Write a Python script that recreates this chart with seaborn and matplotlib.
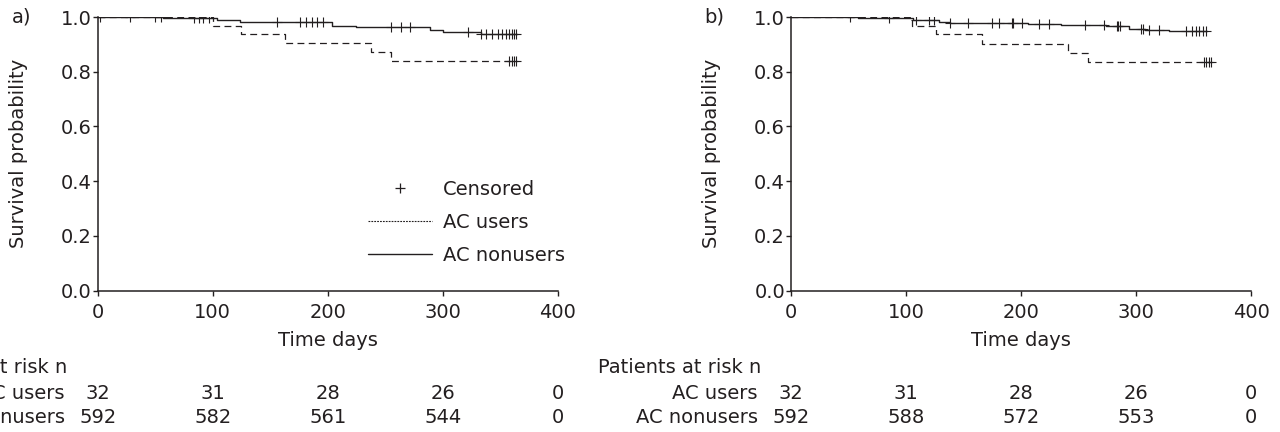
import numpy as np
import pandas as pd
import seaborn as sns
import matplotlib.pyplot as plt
from matplotlib.lines import Line2D

# panel a) step curves
a_non_t = [0, 57, 104, 124, 204, 225, 289, 300, 333, 365]
a_non_s = [1.0, 0.995, 0.99, 0.981, 0.968, 0.963, 0.953, 0.946, 0.937, 0.937]
a_non_cens = [2, 28, 50, 55, 84, 88, 92, 97, 156, 176, 181, 186, 191, 196,
              255, 264, 272, 322, 333, 338, 343, 348, 352, 355, 358, 360, 362, 364]
a_use_t = [0, 100, 125, 163, 238, 255, 365]
a_use_s = [1.0, 0.969, 0.937, 0.906, 0.872, 0.839, 0.839]
a_use_cens = [358, 360, 362, 364]

# panel b) step curves
b_non_t = [0, 58, 106, 129, 138, 206, 235, 274, 294, 308, 329, 362]
b_non_s = [1.0, 0.995, 0.99, 0.983, 0.977, 0.973, 0.97, 0.966, 0.958, 0.954, 0.949, 0.949]
b_non_cens = [51, 85, 109, 120, 124, 138, 154, 175, 181, 192, 193, 201, 216, 224,
              256, 272, 283, 284, 286, 304, 306, 311, 320, 343, 349, 352, 355, 358, 361]
b_use_t = [0, 105, 126, 166, 241, 258, 366]
b_use_s = [1.0, 0.969, 0.937, 0.901, 0.868, 0.836, 0.836]
b_use_cens = [359, 361, 363, 365]

# patients at risk
risk_days = [0, 100, 200, 300, 400]
a_risk_users = [32, 31, 28, 26, 0]
a_risk_nonusers = [592, 582, 561, 544, 0]
b_risk_users = [32, 31, 28, 26, 0]
b_risk_nonusers = [592, 588, 572, 553, 0]

ink = "#231f20"
dash = (0, (5.5, 3.5))
fs = 14

sns.set_style("ticks")
plt.rcParams["font.family"] = ["DejaVu Sans"]
plt.rcParams["font.size"] = fs


def step_at(times, surv, pts):
    idx = np.searchsorted(times, pts, side="right") - 1
    return np.array(surv)[idx]


def km_panel(ax, non_t, non_s, non_c, use_t, use_s, use_c, r_users, r_non, tag):
    df_non = pd.DataFrame({"t": non_t, "s": non_s})
    df_use = pd.DataFrame({"t": use_t, "s": use_s})
    sns.lineplot(data=df_use, x="t", y="s", drawstyle="steps-post", estimator=None,
                 sort=False, color=ink, lw=0.9, linestyle=dash, ax=ax)
    sns.lineplot(data=df_non, x="t", y="s", drawstyle="steps-post", estimator=None,
                 sort=False, color=ink, lw=1.0, ax=ax)
    cens = pd.DataFrame({
        "t": list(non_c) + list(use_c),
        "s": list(step_at(non_t, non_s, non_c)) + list(step_at(use_t, use_s, use_c)),
    })
    sns.scatterplot(data=cens, x="t", y="s", marker="+", s=45, color=ink,
                    linewidth=0.8, ax=ax, zorder=3)

    ax.set_xlim(0, 400)
    ax.set_ylim(0, 1.0)
    ax.set_xticks(risk_days)
    ax.set_yticks([0, 0.2, 0.4, 0.6, 0.8, 1.0])
    ax.set_yticklabels(["0.0", "0.2", "0.4", "0.6", "0.8", "1.0"])
    ax.tick_params(length=3.3, width=1.0, color=ink, labelcolor=ink, labelsize=fs)
    ax.tick_params(axis="x", pad=6)
    ax.tick_params(axis="y", pad=1)
    for sp in ["left", "bottom"]:
        ax.spines[sp].set_linewidth(1.1)
        ax.spines[sp].set_color(ink)
    sns.despine(ax=ax)
    ax.spines["left"].set_clip_on(False)
    ax.set_xlabel("Time days", color=ink, fontsize=fs, labelpad=6)
    ax.set_ylabel("Survival probability", color=ink, fontsize=fs, va="center")
    ax.yaxis.set_label_coords(-0.172, 0.5)
    ax.text(-0.166, 1.0, tag, transform=ax.transAxes, ha="center", va="center",
            fontsize=fs, color=ink)

    tr = ax.get_xaxis_transform()
    ax.text(-0.42, -0.283, "Patients at risk n", transform=ax.transAxes,
            ha="left", va="center", fontsize=fs, color=ink, clip_on=False)
    ax.text(-0.072, -0.375, "AC users", transform=ax.transAxes,
            ha="right", va="center", fontsize=fs, color=ink, clip_on=False)
    ax.text(-0.072, -0.463, "AC nonusers", transform=ax.transAxes,
            ha="right", va="center", fontsize=fs, color=ink, clip_on=False)
    for d, u, n in zip(risk_days, r_users, r_non):
        ax.text(d, -0.375, str(u), transform=tr, ha="center", va="center",
                fontsize=fs, color=ink, clip_on=False)
        ax.text(d, -0.463, str(n), transform=tr, ha="center", va="center",
                fontsize=fs, color=ink, clip_on=False)


fig = plt.figure(figsize=(12.8, 4.32), dpi=100)
ax_a = fig.add_axes([0.0763, 0.3275, 0.3594, 0.633])
ax_b = fig.add_axes([0.618, 0.3275, 0.3594, 0.633])

km_panel(ax_a, a_non_t, a_non_s, a_non_cens, a_use_t, a_use_s, a_use_cens,
         a_risk_users, a_risk_nonusers, "a)")
km_panel(ax_b, b_non_t, b_non_s, b_non_cens, b_use_t, b_use_s, b_use_cens,
         b_risk_users, b_risk_nonusers, "b)")

handles = [
    Line2D([], [], color=ink, marker="+", linestyle="none", markersize=7, markeredgewidth=0.9),
    Line2D([], [], color=ink, lw=0.8, linestyle=(0, (1.6, 1.0))),
    Line2D([], [], color=ink, lw=1.0),
]
ax_a.legend(handles, ["Censored", "AC users", "AC nonusers"], loc="center left",
            bbox_to_anchor=(0.5876, 0.25), frameon=False, fontsize=fs,
            handlelength=3.3, handletextpad=0.57, labelspacing=0.72, borderpad=0,
            borderaxespad=0, labelcolor=ink)

fig.savefig("out.png", dpi=100)
